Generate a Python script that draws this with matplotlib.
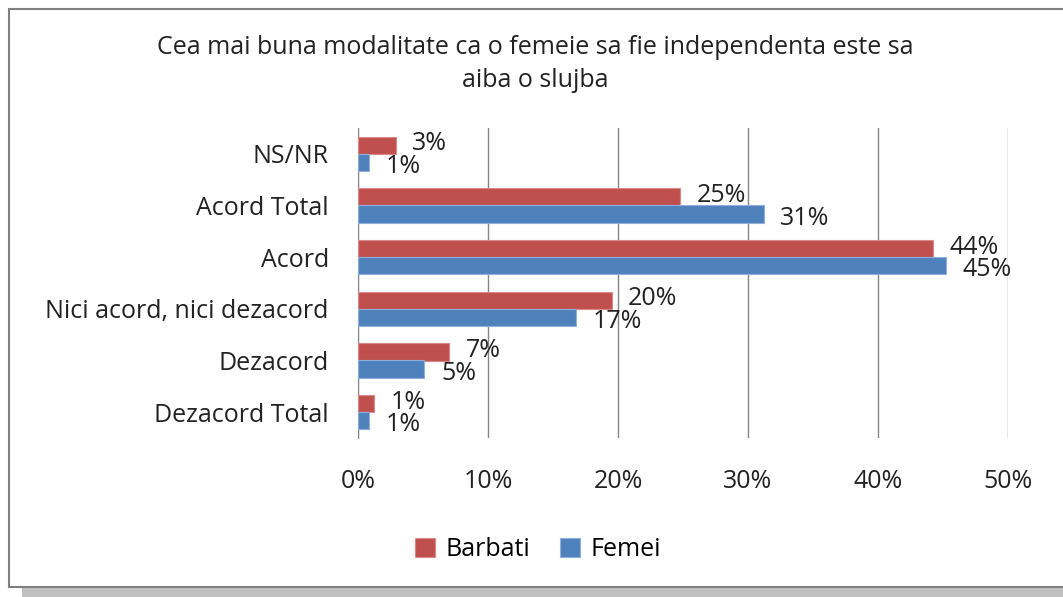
import matplotlib
matplotlib.use("Agg")
import matplotlib.pyplot as plt
from matplotlib.patches import Rectangle
import numpy as np

# categories listed bottom to top, as they appear on the chart
categories = ["Dezacord Total", "Dezacord", "Nici acord, nici dezacord",
              "Acord", "Acord Total", "NS/NR"]
barbati = [1.2, 7.0, 19.5, 44.2, 24.8, 2.9]
femei = [0.85, 5.1, 16.8, 45.2, 31.2, 0.85]
xticks = [0, 10, 20, 30, 40, 50]
title = "Cea mai buna modalitate ca o femeie sa fie independenta este sa\naiba o slujba"

red = "#C0504D"
blue = "#4F81BD"
W, H = 1063, 597
fs = 18

plt.rcParams["font.family"] = ["Open Sans", "DejaVu Sans"]
fig = plt.figure(figsize=(W / 100, H / 100), dpi=100)

# chart frame and shadow
fig.patches.append(Rectangle((22 / W, 0), 1 - 22 / W, 10 / H, transform=fig.transFigure,
                             facecolor="#c0c0c0", edgecolor="none", zorder=-2))
fig.patches.append(Rectangle((9 / W, 10 / H), 1.2, (587 - 9) / H, transform=fig.transFigure,
                             facecolor="white", edgecolor="#808080", linewidth=1.5, zorder=-1))

ax = fig.add_axes([358 / W, 1 - 438 / H, (1008 - 358) / W, (438 - 128) / H])
ax.set_zorder(2)
ax.set_facecolor("none")
y = np.arange(len(categories))
h = 0.33
ax.barh(y + h / 2, barbati, height=h, color=red, edgecolor="#d98a88", linewidth=0.8,
        label="Barbati", zorder=3)
ax.barh(y - h / 2, femei, height=h, color=blue, edgecolor="#8fb0d8", linewidth=0.8,
        label="Femei", zorder=3)

for yi, v in zip(y, barbati):
    ax.annotate(f"{v:.0f}%", (v, yi + h / 2), xytext=(12, 1), textcoords="offset points",
                va="center", ha="left", fontsize=fs, color="#222222")
for yi, v in zip(y, femei):
    ax.annotate(f"{v:.0f}%", (v, yi - h / 2), xytext=(12, -3), textcoords="offset points",
                va="center", ha="left", fontsize=fs, color="#222222")

ax.set_xlim(0, 50)
ax.set_ylim(-0.5, 5.5)
ax.set_xticks(xticks)
ax.set_xticklabels([f"{t}%" for t in xticks])
ax.set_yticks(y)
ax.set_yticklabels(categories)
ax.grid(axis="x", color="#868686", linewidth=1)
ax.set_axisbelow(True)
for s in ["top", "right", "bottom"]:
    ax.spines[s].set_visible(False)
ax.spines["left"].set_color("#868686")
ax.tick_params(axis="x", length=0, pad=22, labelsize=fs, labelcolor="#222222")
ax.tick_params(axis="y", length=0, pad=21, labelsize=fs, labelcolor="#222222")

fig.text(535 / W, 1 - 64 / H, title, ha="center", va="center", fontsize=fs,
         color="#222222", linespacing=1.4)

fig.legend(loc="center", bbox_to_anchor=(538 / W, 1 - 550 / H), ncol=2, frameon=False,
           fontsize=fs, handlelength=0.8, handleheight=0.8, handletextpad=0.4,
           columnspacing=1.2)

fig.savefig("out.png", dpi=100)
